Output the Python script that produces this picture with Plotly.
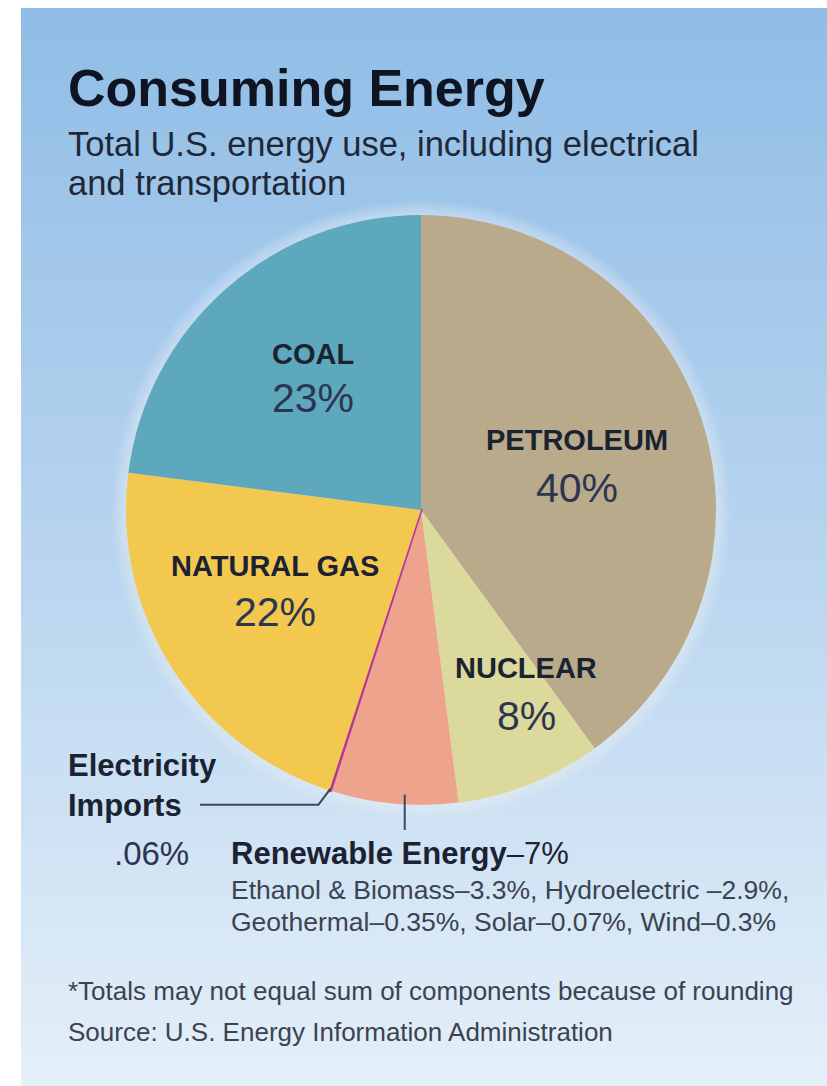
import math
import plotly.graph_objects as go

W, H = 827, 1086

# ---- data -------------------------------------------------------------
sources = ["Petroleum", "Nuclear", "Renewable Energy", "Electricity Imports",
           "Natural Gas", "Coal"]
shares = [40, 8, 7, 0.06, 22, 23]
slice_colors = ["#B8AA8B", "#DBDA9C", "#EEA38D", "#B5359F", "#F3C84F", "#5EA8BD"]

renewable_parts = ["Ethanol & Biomass", "Hydroelectric", "Geothermal", "Solar", "Wind"]
renewable_shares = [3.3, 2.9, 0.35, 0.07, 0.3]

title = "Consuming Energy"
subtitle = ["Total U.S. energy use, including electrical", "and transportation"]
footnotes = ["*Totals may not equal sum of components because of rounding",
             "Source: U.S. Energy Information Administration"]

# ---- geometry / style -------------------------------------------------
CX, CY, R = 421, 510, 295          # pie centre and radius in pixels
FONT = "Liberation Sans, Arial, Helvetica, sans-serif"
INK = "#1B2232"
INK_SOFT = "#2C3650"
INK_GREY = "#3B4352"


def px(x):
    return x / W


def py(y):
    return 1 - y / H


def mix(c1, c2, t):
    return tuple(round(a + (b - a) * t) for a, b in zip(c1, c2))


fig = go.Figure()

fig.add_trace(go.Pie(
    labels=sources,
    values=shares,
    sort=False,
    direction="clockwise",
    rotation=0,
    marker=dict(colors=slice_colors,
                line=dict(color=["rgba(0,0,0,0)"] * 3 + ["#B5359F"] + ["rgba(0,0,0,0)"] * 2,
                          width=[0, 0, 0, 3, 0, 0])),
    textinfo="none",
    hoverinfo="label+value",
    showlegend=False,
    domain=dict(x=[px(CX - R), px(CX + R)], y=[py(CY + R), py(CY - R)]),
))

shapes = []

# vertical sky gradient behind everything, with a white frame at top/left
top_c, mid_c, bot_c = (144, 189, 230), (184, 212, 239), (228, 239, 248)
y_start, y_end = 8, H
n_bands = 90
for i in range(n_bands):
    y0 = y_start + (y_end - y_start) * i / n_bands
    y1 = y_start + (y_end - y_start) * (i + 1) / n_bands + 1
    t = i / (n_bands - 1)
    c = mix(top_c, mid_c, t / 0.5) if t < 0.5 else mix(mid_c, bot_c, (t - 0.5) / 0.5)
    shapes.append(dict(type="rect", xref="paper", yref="paper", layer="below",
                       x0=px(21), x1=1, y0=py(min(y1, H)), y1=py(y0),
                       fillcolor="rgb(%d,%d,%d)" % c, line=dict(width=0)))

# soft light halo around the pie
for k in range(14, 0, -2):
    r = R + k
    shapes.append(dict(type="circle", xref="paper", yref="paper", layer="below",
                       x0=px(CX - r), x1=px(CX + r), y0=py(CY + r), y1=py(CY - r),
                       fillcolor="rgba(255,255,255,0.06)", line=dict(width=0)))

# slice boundary angles (clockwise from 12 o'clock)
total = sum(shares)
bounds = [0.0]
for v in shares:
    bounds.append(bounds[-1] + 360 * v / total)


def edge_point(angle_deg, extra=0.0):
    a = math.radians(angle_deg)
    return CX + (R + extra) * math.sin(a), CY - (R + extra) * math.cos(a)


# leader for electricity imports
imp = sources.index("Electricity Imports")
ia = (bounds[imp] + bounds[imp + 1]) / 2
ex, ey = edge_point(ia, -2)
elbow_y = ey + 16
shapes.append(dict(type="path", xref="paper", yref="paper", layer="above",
                   path="M %f,%f L %f,%f L %f,%f" % (
                       px(200), py(elbow_y), px(ex - 12), py(elbow_y), px(ex), py(ey)),
                   line=dict(color="#3A4A5E", width=2)))

# leader for renewable energy (a little right of the slice's mid-angle)
ren = sources.index("Renewable Energy")
ra = bounds[ren] + 0.42 * (bounds[ren + 1] - bounds[ren])
rx, ry = edge_point(ra, -10)
shapes.append(dict(type="line", xref="paper", yref="paper", layer="above",
                   x0=px(rx), x1=px(rx), y0=py(ry), y1=py(830),
                   line=dict(color="#3A4A5E", width=2)))

annotations = []


def note(text, x, y, size, color, anchor="left"):
    annotations.append(dict(text=text, x=px(x), y=py(y), xref="paper", yref="paper",
                            xanchor=anchor, yanchor="middle", showarrow=False,
                            font=dict(size=size, family=FONT, color=color),
                            align=anchor))


def pct(v):
    s = "%g" % v
    return (s[1:] if s.startswith("0.") else s) + "%"


# heading
note("<b>" + title + "</b>", 66, 88, 52, "#0E1422")
note(subtitle[0], 66, 144, 34.5, "#1F2838")
note(subtitle[1], 66, 183, 34.5, "#1F2838")

# labels inside the pie
inside = {
    "Coal": (313, 354, 398),
    "Petroleum": (577, 440, 488),
    "Natural Gas": (275, 566, 612),
    "Nuclear": (526, 668, 716),
}
for name, (lx, ly_name, ly_pct) in inside.items():
    v = shares[sources.index(name)]
    note("<b>" + name.upper() + "</b>", lx, ly_name, 29, INK, anchor="center")
    note(pct(v), lx, ly_pct, 41, INK_SOFT, anchor="center")

# electricity imports
note("<b>Electricity</b>", 66, 765, 31, INK)
note("<b>Imports</b>", 66, 805, 31, INK)
note(pct(shares[imp]), 191, 853, 33, INK_SOFT, anchor="right")

# renewable energy breakdown
note("<b>Renewable Energy</b>–" + pct(shares[ren]), 229, 853, 31, INK)
parts = ["%s–%s%%" % (n, "%g" % v) for n, v in zip(renewable_parts, renewable_shares)]
parts[1] = parts[1].replace("–", " –")
note(", ".join(parts[:2]) + ",", 229, 890, 26.5, INK_GREY)
note(", ".join(parts[2:]), 229, 922, 26.5, INK_GREY)

# footnotes
note(footnotes[0], 66, 991, 26, INK_GREY)
note(footnotes[1], 66, 1032, 26, INK_GREY)

fig.update_layout(
    width=W, height=H,
    margin=dict(l=0, r=0, t=0, b=0),
    paper_bgcolor="white",
    plot_bgcolor="white",
    shapes=shapes,
    annotations=annotations,
    showlegend=False,
)

fig.write_html("out.html")
